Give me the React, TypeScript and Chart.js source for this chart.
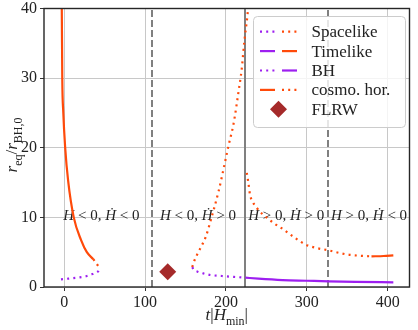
import React, { useEffect, useRef } from "react";
import { Chart, registerables } from "chart.js";

Chart.register(...registerables);

const FONT = "'Liberation Serif', 'DejaVu Serif', serif";
const PURPLE = "#9d1ff0";
const ORANGE = "#ff4a0a";
const BROWN = "#a52a2a";

// ---- data ----
const xTicks = [0, 100, 200, 300, 400];
const yTicks = [0, 10, 20, 30, 40];

const bhSpaceLeftT = [-4, 5, 19, 28, 33.3, 38, 41.3, 43.2, 43.7];
const bhSpaceLeftR = [1.1, 1.2, 1.38, 1.58, 1.8, 2.0, 2.2, 2.45, 2.7];
const cosmoSpaceLeftT = [36, 39.3, 42.2, 43.3, 43.7];
const cosmoSpaceLeftR = [4.0, 3.46, 3.0, 2.82, 2.7];
const cosmoTimeLeftT = [-3.4, -3.0, -2.4, -1.2, 1.2, 4.9, 11.8, 21, 28, 36];
const cosmoTimeLeftR = [43, 40, 30, 25.2, 20, 15.2, 10, 6.7, 5.0, 4.0];

const bhSpaceMidT = [158.3, 160, 165, 172, 181, 195, 210, 224];
const bhSpaceMidR = [2.85, 2.5, 2.2, 1.95, 1.72, 1.58, 1.45, 1.34];
const cosmoSpaceMidT = [158.3, 160, 165, 175, 181, 191, 197.3, 203.4, 209.5, 215.5, 219.6, 222.5, 226.9, 228];
const cosmoSpaceMidR = [2.85, 3.5, 4.8, 7.2, 9.5, 13.8, 17.1, 20.4, 23.5, 28, 31.4, 35, 39.4, 41];

const bhTimeRightT = [224, 240, 270, 300, 327, 360, 407];
const bhTimeRightR = [1.34, 1.2, 1.0, 0.9, 0.81, 0.74, 0.67];
const cosmoSpaceRightT = [225.8, 227.7, 229.7, 233.8, 237.8, 244, 250, 260, 270, 282.4, 298.5, 312, 326.8, 340, 351, 365, 380];
const cosmoSpaceRightR = [16.4, 15.0, 13.3, 12.1, 11.4, 10.6, 10, 9.1, 8.35, 7.3, 6.1, 5.6, 5.27, 4.9, 4.65, 4.5, 4.4];
const cosmoTimeRightT = [380, 395, 407];
const cosmoTimeRightR = [4.4, 4.45, 4.55];

const flrwT = [128];
const flrwR = [2.2];

const dashedLinesT = [108, 326];
const solidLinesT = [224];

const regionCentersT = [46, 165.5, 274.5, 377];
const regionLabelR = 10.4;
const regionSignsH = ["<", "<", ">", ">"];
const regionSignsHdot = ["<", ">", ">", "<"];

const legendLabels = ["Spacelike", "Timelike", "BH", "cosmo. hor.", "FLRW"];

// ---- helpers ----
const pts = (T: number[], R: number[]) => T.map((t, i) => ({ x: t, y: R[i] }));
const DOT = [2, 4.2];

type Seg = { t: string; it?: boolean; sub?: boolean };
const segFont = (s: Seg, size: number) =>
  `${s.it ? "italic " : ""}${s.sub ? Math.round(size * 0.7) : size}px ${FONT}`;
function measureSegs(ctx: CanvasRenderingContext2D, segs: Seg[], size: number) {
  let w = 0;
  for (const s of segs) {
    ctx.font = segFont(s, size);
    w += ctx.measureText(s.t).width;
  }
  return w;
}
function drawSegs(ctx: CanvasRenderingContext2D, segs: Seg[], x: number, y: number, size: number) {
  let cx = x;
  for (const s of segs) {
    ctx.font = segFont(s, size);
    ctx.fillText(s.t, cx, y + (s.sub ? size * 0.27 : 0));
    cx += ctx.measureText(s.t).width;
  }
}

function handle(ctx: CanvasRenderingContext2D, x0: number, x1: number, y: number, color: string, dotted: boolean) {
  ctx.save();
  ctx.strokeStyle = color;
  ctx.lineWidth = 2.2;
  ctx.lineCap = "butt";
  ctx.setLineDash(dotted ? DOT : []);
  ctx.beginPath();
  ctx.moveTo(x0, y);
  ctx.lineTo(x1, y);
  ctx.stroke();
  ctx.restore();
}

function diamond(ctx: CanvasRenderingContext2D, x: number, y: number, r: number) {
  ctx.beginPath();
  ctx.moveTo(x - r, y);
  ctx.lineTo(x, y - r);
  ctx.lineTo(x + r, y);
  ctx.lineTo(x, y + r);
  ctx.closePath();
  ctx.fillStyle = BROWN;
  ctx.fill();
}

const overlay = {
  id: "overlay",
  beforeDatasetsDraw(chart: any) {
    const { ctx, chartArea: a, scales } = chart;
    const xs = scales.x, ys = scales.y;
    ctx.save();
    ctx.beginPath();
    ctx.rect(a.left, a.top, a.right - a.left, a.bottom - a.top);
    ctx.clip();
    ctx.strokeStyle = "#808080";
    ctx.lineWidth = 2;
    for (const t of dashedLinesT) {
      const px = Math.round(xs.getPixelForValue(t));
      ctx.setLineDash([7, 3]);
      ctx.beginPath();
      ctx.moveTo(px, a.bottom);
      ctx.lineTo(px, a.top);
      ctx.stroke();
    }
    for (const t of solidLinesT) {
      const px = Math.round(xs.getPixelForValue(t));
      ctx.setLineDash([]);
      ctx.beginPath();
      ctx.moveTo(px, a.bottom);
      ctx.lineTo(px, a.top);
      ctx.stroke();
    }
    ctx.setLineDash([]);
    // region annotations
    ctx.fillStyle = "#222";
    ctx.textBaseline = "alphabetic";
    ctx.textAlign = "left";
    const size = 15;
    regionCentersT.forEach((t, i) => {
      const segs: Seg[] = [
        { t: "H", it: true },
        { t: ` ${regionSignsH[i]} 0, ` },
        { t: "\u1E22", it: true },
        { t: ` ${regionSignsHdot[i]} 0` },
      ];
      const w = measureSegs(ctx, segs, size);
      const cx = xs.getPixelForValue(t);
      const cy = ys.getPixelForValue(regionLabelR);
      drawSegs(ctx, segs, cx - w / 2, cy + 5, size);
    });
    ctx.restore();
  },
  afterDraw(chart: any) {
    const { ctx, chartArea: a } = chart;
    ctx.save();
    // frame
    ctx.strokeStyle = "#262626";
    ctx.lineWidth = 1.4;
    ctx.setLineDash([]);
    ctx.strokeRect(a.left, a.top, a.right - a.left, a.bottom - a.top);

    // legend
    const bx = 253.5, by = 16.5, bw = 152, bh = 111, rr = 4;
    ctx.beginPath();
    ctx.moveTo(bx + rr, by);
    ctx.arcTo(bx + bw, by, bx + bw, by + bh, rr);
    ctx.arcTo(bx + bw, by + bh, bx, by + bh, rr);
    ctx.arcTo(bx, by + bh, bx, by, rr);
    ctx.arcTo(bx, by, bx + bw, by, rr);
    ctx.closePath();
    ctx.fillStyle = "rgba(255,255,255,0.8)";
    ctx.fill();
    ctx.strokeStyle = "#cccccc";
    ctx.lineWidth = 1;
    ctx.stroke();

    const rowY = (i: number) => 31.7 + i * 19.4;
    const h1: [number, number] = [260, 275];
    const h2: [number, number] = [282, 297];
    const handles: [string, boolean, string, boolean][] = [
      [PURPLE, true, ORANGE, true],
      [PURPLE, false, ORANGE, false],
      [PURPLE, true, PURPLE, false],
      [ORANGE, false, ORANGE, true],
    ];
    handles.forEach((h, i) => {
      handle(ctx, h1[0], h1[1], rowY(i), h[0], h[1]);
      handle(ctx, h2[0], h2[1], rowY(i), h[2], h[3]);
    });
    diamond(ctx, 278.5, rowY(4), 8.5);
    ctx.fillStyle = "#222";
    ctx.textBaseline = "middle";
    ctx.textAlign = "left";
    ctx.font = `17px ${FONT}`;
    legendLabels.forEach((l, i) => ctx.fillText(l, 311.5, rowY(i) + 1));

    // axis titles
    ctx.textBaseline = "alphabetic";
    const xl: Seg[] = [
      { t: "t", it: true },
      { t: "|" },
      { t: "H", it: true },
      { t: "min", sub: true },
      { t: "|" },
    ];
    const xw = measureSegs(ctx, xl, 17);
    drawSegs(ctx, xl, (a.left + a.right) / 2 - xw / 2, 320, 17);

    const yl: Seg[] = [
      { t: "r", it: true },
      { t: "eq", sub: true },
      { t: "/" },
      { t: "r", it: true },
      { t: "BH,0", sub: true },
    ];
    const yw = measureSegs(ctx, yl, 17);
    ctx.translate(12, 145);
    ctx.rotate(-Math.PI / 2);
    drawSegs(ctx, yl, -yw / 2, 5, 17);
    ctx.restore();
  },
};

const solid = (T: number[], R: number[], color: string) => ({
  data: pts(T, R),
  showLine: true,
  borderColor: color,
  borderWidth: 2.2,
  pointRadius: 0,
  cubicInterpolationMode: "monotone" as const,
});
const dotted = (T: number[], R: number[], color: string) => ({
  ...solid(T, R, color),
  borderDash: DOT,
  borderCapStyle: "butt" as const,
});

export default function App() {
  const ref = useRef<HTMLCanvasElement>(null);
  useEffect(() => {
    if (!ref.current) return;
    const tickFont = { family: FONT, size: 16 };
    const chart = new Chart(ref.current, {
      type: "scatter",
      data: {
        datasets: [
          {
            data: pts(flrwT, flrwR),
            pointStyle: "rectRot",
            pointRadius: 8.5,
            pointBackgroundColor: BROWN,
            pointBorderWidth: 0,
            showLine: false,
          } as any,
          dotted(bhSpaceLeftT, bhSpaceLeftR, PURPLE),
          dotted(cosmoSpaceLeftT, cosmoSpaceLeftR, ORANGE),
          solid(cosmoTimeLeftT, cosmoTimeLeftR, ORANGE),
          dotted(bhSpaceMidT, bhSpaceMidR, PURPLE),
          dotted(cosmoSpaceMidT, cosmoSpaceMidR, ORANGE),
          solid(bhTimeRightT, bhTimeRightR, PURPLE),
          dotted(cosmoSpaceRightT, cosmoSpaceRightR, ORANGE),
          solid(cosmoTimeRightT, cosmoTimeRightR, ORANGE),
        ],
      },
      options: {
        responsive: false,
        maintainAspectRatio: false,
        animation: false,
        layout: { padding: { left: 0, right: 4, top: 6, bottom: 0 } },
        plugins: { legend: { display: false }, tooltip: { enabled: false } },
        scales: {
          x: {
            type: "linear",
            min: -25,
            max: 427,
            afterBuildTicks: (s: any) => {
              s.ticks = xTicks.map((v) => ({ value: v }));
            },
            afterFit: (s: any) => {
              s.height = 43;
              s.paddingLeft = 0;
              s.paddingRight = 0;
            },
            grid: { color: "#c8c8c8", lineWidth: 1, tickLength: 4, tickColor: "#333" },
            border: { display: false },
            ticks: { font: tickFont, color: "#222", padding: 2, maxRotation: 0, autoSkip: false },
          },
          y: {
            type: "linear",
            min: 0,
            max: 40,
            afterBuildTicks: (s: any) => {
              s.ticks = yTicks.map((v) => ({ value: v }));
            },
            afterFit: (s: any) => {
              s.width = 44;
              s.paddingTop = 0;
              s.paddingBottom = 0;
            },
            grid: { color: "#c8c8c8", lineWidth: 1, tickLength: 4, tickColor: "#333" },
            border: { display: false },
            ticks: { font: tickFont, color: "#222", padding: 3, autoSkip: false },
          },
        },
      },
      plugins: [overlay],
    });
    return () => chart.destroy();
  }, []);
  return (
    <div style={{ position: "fixed", left: 0, top: 0, width: 418, height: 330, background: "#fff" }}>
      <canvas ref={ref} width={418} height={330} style={{ display: "block" }} />
    </div>
  );
}
